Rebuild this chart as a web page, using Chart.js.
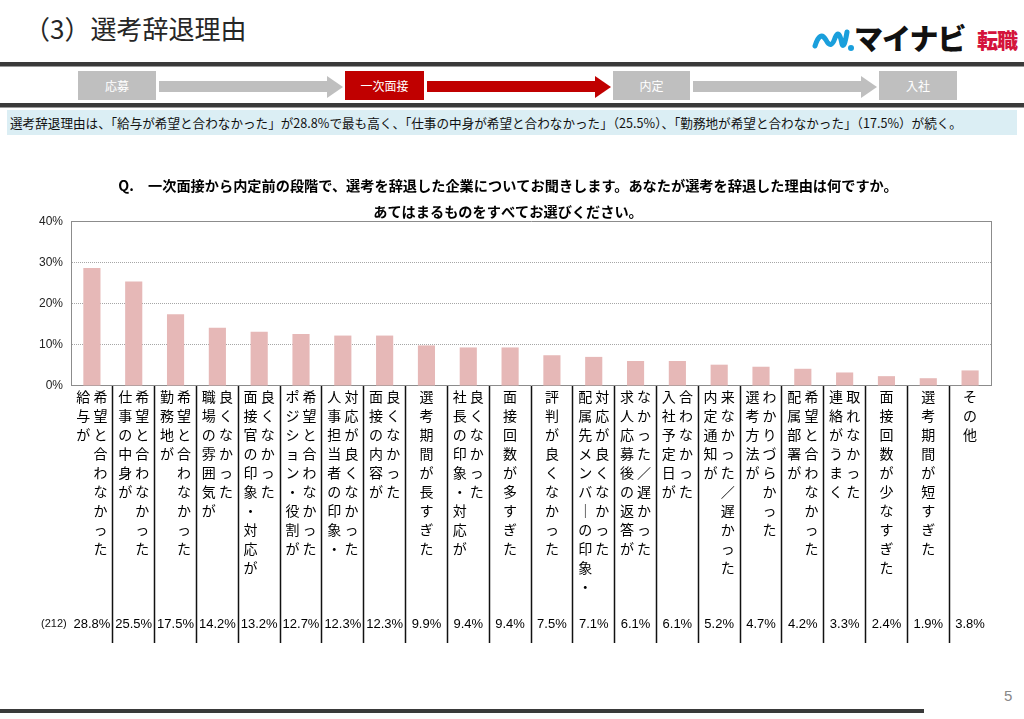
<!DOCTYPE html>
<html><head><meta charset="utf-8">
<script src="https://cdn.jsdelivr.net/npm/chart.js@4/dist/chart.umd.min.js"></script>
<style>
html,body{margin:0;padding:0;background:#fff;width:1024px;height:719px;overflow:hidden;font-family:"Noto Sans CJK JP",sans-serif;}
.abs{position:absolute;}
#title{left:24px;top:9px;font-size:26px;color:#262626;letter-spacing:0px;}
.hline{left:0;height:4px;background:#3a3a3a;border-bottom:1px solid #9a9a9a;}
.box{height:29px;line-height:29px;text-align:center;color:#fff;font-size:12px;top:71px;}
.shaft{height:11px;top:81px;}
.head{width:0;height:0;border-top:11px solid transparent;border-bottom:11px solid transparent;top:76px;}
#band{left:7px;top:110px;width:1010px;height:25px;background:#dbeef4;}
#summary{left:10px;top:113px;font-size:12.6px;color:#111;white-space:nowrap;}
#logo{left:812px;top:18px;width:210px;height:34px;}
</style></head>
<body>
<div id="title" class="abs">（3）選考辞退理由</div>
<div id="logo" class="abs">
  <svg width="44" height="30" style="position:absolute;left:0;top:6px" viewBox="0 0 44 30">
    <path d="M3 22 Q8 6 14 16 Q19 26 23 14 Q27 4 30 20 Q32 26 35 8" fill="none" stroke="#1a9fdc" stroke-width="5" stroke-linecap="round" stroke-linejoin="round"/>
    <circle cx="39" cy="24" r="3" fill="#1a9fdc"/>
  </svg>
  <span class="abs" style="left:42px;top:-2px;font-size:29px;font-weight:900;color:#111;letter-spacing:-1px;">マイナビ</span>
  <span class="abs" style="left:165px;top:6px;font-size:21px;font-weight:900;color:#d4143c;letter-spacing:-1px;">転職</span>
</div>
<div class="abs hline" style="top:62px;width:1024px;"></div>

<div class="abs box" style="left:78px;width:78px;background:#bfbfbf;">応募</div>
<div class="abs shaft" style="left:159px;width:168px;background:#bfbfbf;"></div>
<div class="abs head" style="left:327px;border-left:16px solid #bfbfbf;"></div>
<div class="abs box" style="left:345px;width:79px;background:#c00000;">一次面接</div>
<div class="abs shaft" style="left:427px;width:168px;background:#c00000;"></div>
<div class="abs head" style="left:595px;border-left:16px solid #c00000;"></div>
<div class="abs box" style="left:613px;width:77px;background:#bfbfbf;">内定</div>
<div class="abs shaft" style="left:693px;width:168px;background:#bfbfbf;"></div>
<div class="abs head" style="left:861px;border-left:16px solid #bfbfbf;"></div>
<div class="abs box" style="left:879px;width:78px;background:#bfbfbf;">入社</div>

<div class="abs hline" style="top:103px;width:1024px;"></div>
<div id="band" class="abs"></div>
<div id="summary" class="abs">選考辞退理由は、「給与が希望と合わなかった」が28.8%で最も高く、「仕事の中身が希望と合わなかった」（25.5%）、「勤務地が希望と合わなかった」（17.5%）が続く。</div>

<canvas id="c" class="abs" width="1016" height="520" style="left:0;top:140px;"></canvas>
<div class="abs" style="left:41px;top:617px;font-family:'Liberation Sans',Arial,sans-serif;font-size:11px;color:#111;">(212)</div>
<div class="abs" style="left:1004px;top:687px;font-family:'Liberation Sans',Arial,sans-serif;font-size:15px;color:#888;">5</div>
<div class="abs" style="left:0;top:709px;width:924px;height:4px;background:#3a3a3a;"></div>

<script>
const chartTitle = ["Q.　一次面接から内定前の段階で、選考を辞退した企業についてお聞きします。あなたが選考を辞退した理由は何ですか。", "あてはまるものをすべてお選びください。"];
const categories = [
  "給与が|希望と合わなかった",
  "仕事の中身が|希望と合わなかった",
  "勤務地が|希望と合わなかった",
  "職場の雰囲気が|良くなかった",
  "面接官の印象・対応が|良くなかった",
  "ポジション・役割が|希望と合わなかった",
  "人事担当者の印象・|対応が良くなかった",
  "面接の内容が|良くなかった",
  "選考期間が長すぎた",
  "社長の印象・対応が|良くなかった",
  "面接回数が多すぎた",
  "評判が良くなかった",
  "配属先メンバーの印象・|対応が良くなかった",
  "求人応募後の返答が|なかった／遅かった",
  "入社予定日が|合わなかった",
  "内定通知が|来なかった／遅かった",
  "選考方法が|わかりづらかった",
  "配属部署が|希望と合わなかった",
  "連絡がうまく|取れなかった",
  "面接回数が少なすぎた",
  "選考期間が短すぎた",
  "その他"
];
const values = [28.8, 25.5, 17.5, 14.2, 13.2, 12.7, 12.3, 12.3, 9.9, 9.4, 9.4, 7.5, 7.1, 6.1, 6.1, 5.2, 4.7, 4.2, 3.3, 2.4, 1.9, 3.8];
const yTickValues = [0, 10, 20, 30, 40];

function toVertical(cat) {
  const cols = cat.split('|').map(s => Array.from(s.replace(/ー/g, '｜')));
  if (cols.length === 1) return cols[0];
  const n = Math.max(cols[0].length, cols[1].length);
  const lines = [];
  for (let i = 0; i < n; i++) lines.push((cols[0][i] || '\u3000') + ' ' + (cols[1][i] || '\u3000'));
  return lines;
}
const verticalLabels = categories.map(toVertical);
const valueLabels = values.map(v => v.toFixed(1) + '%');

new Chart(document.getElementById('c'), {
  type: 'bar',
  data: {
    labels: verticalLabels,
    datasets: [{ data: values, backgroundColor: '#e6b8b7', borderWidth: 0, categoryPercentage: 1, barPercentage: 0.41, xAxisID: 'x', yAxisID: 'y' }]
  },
  options: {
    responsive: false,
    animation: false,
    devicePixelRatio: 1,
    layout: { padding: { left: 25, right: 25, top: 0, bottom: 13 } },
    plugins: {
      legend: { display: false },
      tooltip: { enabled: false },
      title: { display: true, text: chartTitle[0], color: '#000', font: { family: 'Noto Sans CJK JP', size: 14.2, weight: 'bold', lineHeight: 1.2 }, padding: { top: 37.5, bottom: 0 } },
      subtitle: { display: true, text: chartTitle[1], color: '#000', font: { family: 'Noto Sans CJK JP', size: 14.2, weight: 'bold', lineHeight: 1.2 }, padding: { top: 9, bottom: 1.4 } }
    },
    scales: {
      x: {
        type: 'category', position: 'bottom', offset: true,
        grid: { display: true, drawOnChartArea: false, drawTicks: true, offset: true, tickLength: 257, tickWidth: 1.5,
                tickColor: c => (c.index === 0 || c.index === undefined) ? 'transparent' : '#111' },
        border: { display: true, color: '#8c8c8c', width: 1 },
        ticks: { autoSkip: false, maxRotation: 0, minRotation: 0, padding: -255.5, color: '#000',
                 font: { family: 'Noto Sans CJK JP', size: 14, lineHeight: 19 / 14 } },
        afterFit: s => { s.height = 215; }
      },
      x2: {
        type: 'category', position: 'bottom', offset: true, labels: valueLabels,
        grid: { display: false, drawTicks: false }, border: { display: false },
        ticks: { autoSkip: false, maxRotation: 0, minRotation: 0, padding: 15.2, color: '#000',
                 font: { family: 'Liberation Sans', size: 13, lineHeight: 1.2 } },
        afterFit: s => { s.height = 46; }
      },
      y: {
        type: 'linear', position: 'left', min: 0, max: 40,
        afterBuildTicks: s => { s.ticks = yTickValues.map(v => ({ value: v })); },
        afterFit: s => { s.width = 46; },
        grid: { color: c => c.tick && c.tick.value === 0 ? 'transparent' : (c.tick && c.tick.value === 40 ? '#8c8c8c' : '#a6a6a6'), lineWidth: 1, drawTicks: false },
        border: { display: true, color: '#8c8c8c', width: 1, dash: c => (c.tick && c.tick.value > 0 && c.tick.value < 40) ? [1, 1] : [] },
        ticks: { padding: 8, color: '#222', font: { family: 'Liberation Sans', size: 12 }, callback: v => v + '%' }
      },
      yR: {
        type: 'linear', position: 'right', min: 0, max: 40,
        grid: { display: false, drawTicks: false }, border: { display: true, color: '#8c8c8c', width: 1 },
        ticks: { display: false },
        afterFit: s => { s.width = 0; }
      }
    }
  }
});
</script>
</body></html>
